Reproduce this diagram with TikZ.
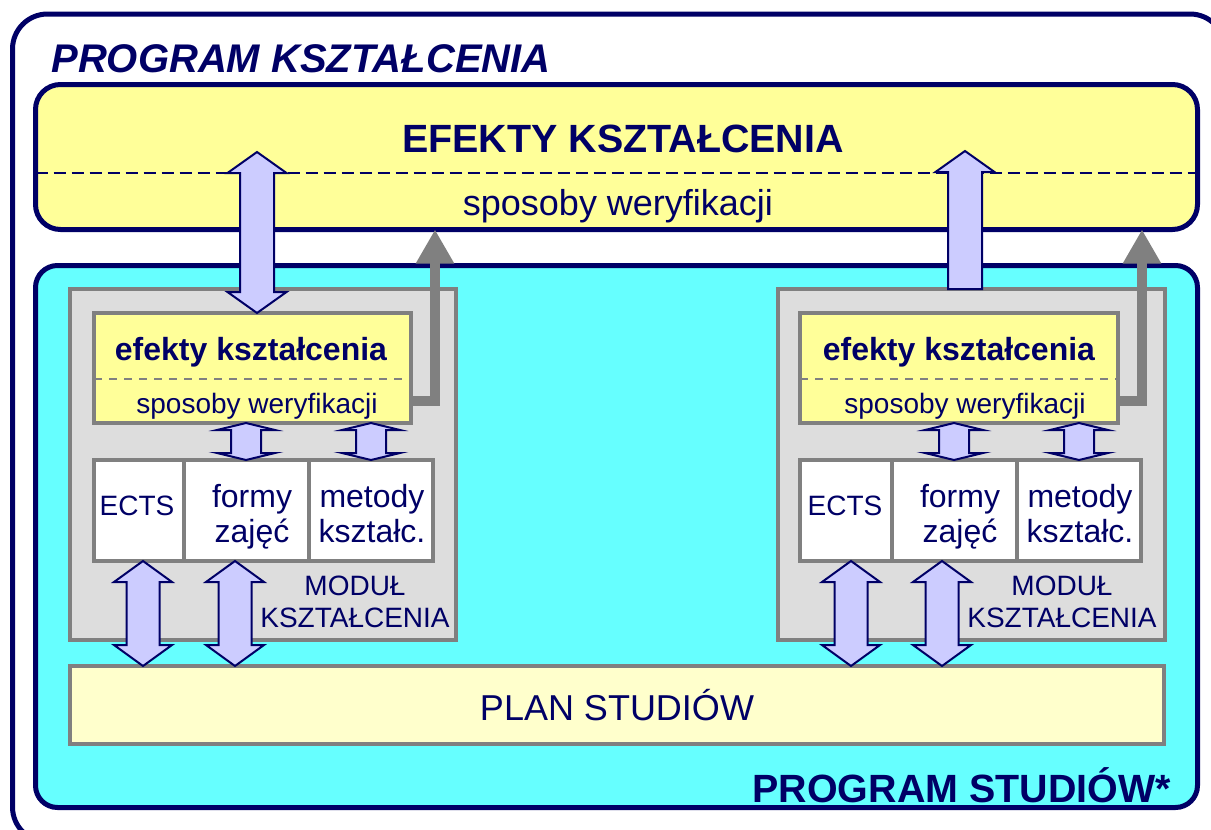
\documentclass[tikz,border=0pt]{standalone}
\usepackage{fontspec}
\setmainfont{Liberation Sans}
\usepackage{tikz}
\usetikzlibrary{calc,fit,arrows.meta}

\definecolor{navy}{HTML}{000066}
\definecolor{paleyel}{HTML}{FFFF99}
\definecolor{planyel}{HTML}{FFFFCC}
\definecolor{cyanbg}{HTML}{66FFFF}
\definecolor{modgray}{HTML}{DDDDDD}
\definecolor{linegray}{HTML}{808080}
\definecolor{lavender}{HTML}{CCCCFF}

\tikzset{
	bigbox/.style={draw=navy, line width=2.5pt, inner sep=0pt, outer sep=0pt},
	modbox/.style={draw=linegray, line width=2pt, inner sep=0pt, outer sep=0pt},
	blockarr/.style={draw=navy, line width=1pt, fill=lavender, line join=miter},
	greyarr/.style={draw=linegray, line width=5pt, -{Triangle[width=18pt,length=17pt]}},
	hdrtext/.style={text=navy, inner sep=0pt, font=\bfseries\fontsize{19.7}{23}\selectfont},
	bigtext/.style={text=navy, inner sep=0pt, font=\fontsize{18}{22}\selectfont},
	modhead/.style={text=navy, inner sep=0pt, font=\bfseries\fontsize{16}{19}\selectfont},
	celltext/.style={text=navy, inner sep=0pt, font=\fontsize{16}{17.5}\selectfont, align=center},
	smalltext/.style={text=navy, inner sep=0pt, font=\fontsize{14}{16}\selectfont, align=center}
}

% vertical block arrows: bottom tip, top tip, (shaft half : head half : head length)
\def\dblarrow[#1](#2)(#3)(#4:#5:#6){\draw[#1] let \p1=(#2), \p2=(#3) in (\x1,\y1) -- (\x1+#5,\y1+#6) -- (\x1+#4,\y1+#6) -- (\x1+#4,\y2-#6) -- (\x1+#5,\y2-#6) -- (\x1,\y2) -- (\x1-#5,\y2-#6) -- (\x1-#4,\y2-#6) -- (\x1-#4,\y1+#6) -- (\x1-#5,\y1+#6) -- cycle;}
\def\onearrow[#1](#2)(#3)(#4:#5:#6){\draw[#1] let \p1=(#2), \p2=(#3) in (\x1-#4,\y1) -- (\x1-#4,\y2-#6) -- (\x1-#5,\y2-#6) -- (\x1,\y2) -- (\x1+#5,\y2-#6) -- (\x1+#4,\y2-#6) -- (\x1+#4,\y1) -- cycle;}

\begin{document}
\begin{tikzpicture}[x=0.5pt,y=-0.5pt]
			%%%%% START %%%%%
			\useasboundingbox (0,0) rectangle (1211,830);
			
			\draw[navy, line width=2.5pt, rounded corners=17.5pt] (12.5,14) rectangle (1225,842);
			\node[anchor=base west, inner sep=0pt, text=navy, font=\bfseries\itshape\fontsize{20}{24}\selectfont] (ptitle) at (51,72) {PROGRAM KSZTAŁCENIA};
			
			\node[bigbox, fill=paleyel, rounded corners=12.5pt, fit={(35.5,84.5)(1197.5,229.5)}] (efk) {};
			\coordinate (dl) at (0,173);
			\draw[navy, line width=1pt, dash pattern=on 6pt off 3pt] (efk.west |- dl) -- (efk.east |- dl);
			\node[hdrtext, anchor=base] (efktxt) at (623,152) {EFEKTY KSZTAŁCENIA};
			\node[bigtext, anchor=base] (efkver) at (618,215) {sposoby weryfikacji};
			
			\node[bigbox, fill=cyanbg, rounded corners=11pt, fit={(35.5,265.5)(1197.5,807.5)}] (pstud) {};
			\node[hdrtext, anchor=base east] (pstudtxt) at (1171,802) {PROGRAM STUDIÓW*};
			
			% left module
			\node[modbox, fill=modgray, fit={(70,289)(456,640)}] (lmod) {};
			\node[modbox, fill=paleyel, fit={(94,313)(411,423)}] (lefk) {};
			\coordinate (mdl) at (0,379);
			\draw[linegray, line width=1pt, dash pattern=on 4pt off 3.5pt] (lefk.west |- mdl) -- (lefk.east |- mdl);
			\node[modhead, anchor=base] (lefktxt) at (251,360) {efekty kształcenia};
			\node[smalltext, anchor=base] (lver) at (257,413) {sposoby weryfikacji};
			\node[modbox, fill=white, fit={(94,460)(184,561)}] (lects) {};
			\node[modbox, fill=white, fit={(184,460)(309,561)}] (lform) {};
			\node[modbox, fill=white, fit={(309,460)(433,561)}] (lmet) {};
			\node[smalltext, anchor=base] at (137,515) {ECTS};
			\node[celltext, anchor=base] at (252,542) {formy\\zajęć};
			\node[celltext, anchor=base] at (372,542) {metody\\kształc.};
			\node[smalltext, anchor=base] (lmodtxt) at (355,627) {MODUŁ\\KSZTAŁCENIA};
			
			% right module
			\node[modbox, fill=modgray, fit={(778,289)(1165,640)}] (rmod) {};
			\node[modbox, fill=paleyel, fit={(800,313)(1118,423)}] (refk) {};
			\draw[linegray, line width=1pt, dash pattern=on 4pt off 3.5pt] (refk.west |- mdl) -- (refk.east |- mdl);
			\node[modhead, anchor=base] (refktxt) at (959,360) {efekty kształcenia};
			\node[smalltext, anchor=base] (rver) at (965,413) {sposoby weryfikacji};
			\node[modbox, fill=white, fit={(800,460)(891.5,561)}] (rects) {};
			\node[modbox, fill=white, fit={(891.5,460)(1017,561)}] (rform) {};
			\node[modbox, fill=white, fit={(1017,460)(1141,561)}] (rmet) {};
			\node[smalltext, anchor=base] at (845,515) {ECTS};
			\node[celltext, anchor=base] at (960,542) {formy\\zajęć};
			\node[celltext, anchor=base] at (1080,542) {metody\\kształc.};
			\node[smalltext, anchor=base] (rmodtxt) at (1062,627) {MODUŁ\\KSZTAŁCENIA};
			
			\node[modbox, fill=planyel, fit={(70,666)(1164,744)}] (plan) {};
			\node[bigtext] (plantxt) at (plan) {PLAN STUDIÓW};
			
			% arrows
			\coordinate (ltip) at (257,152);
			\coordinate (rtip) at (965,151);
			\dblarrow[blockarr](ltip |- lefk.north)(ltip)(8.5pt:14.75pt:10.5pt);
			\onearrow[blockarr](rtip |- rmod.north)(rtip)(8.5pt:14.75pt:10.5pt);
			
			\coordinate (la) at (246,0);
			\coordinate (lb) at (371,0);
			\coordinate (ra) at (954,0);
			\coordinate (rb) at (1079,0);
			\dblarrow[blockarr](la |- lform.north)(la |- lefk.south)(7.5pt:14.5pt:3.5pt);
			\dblarrow[blockarr](lb |- lmet.north)(lb |- lefk.south)(7.5pt:14.5pt:3.5pt);
			\dblarrow[blockarr](ra |- rform.north)(ra |- refk.south)(7.5pt:14.5pt:3.5pt);
			\dblarrow[blockarr](rb |- rmet.north)(rb |- refk.south)(7.5pt:14.5pt:3.5pt);
			
			\coordinate (lc) at (143,0);
			\coordinate (ld) at (235,0);
			\coordinate (rc) at (851,0);
			\coordinate (rd) at (942,0);
			\dblarrow[blockarr](lc |- plan.north)(lc |- lects.south)(8.25pt:14.5pt:10.5pt);
			\dblarrow[blockarr](ld |- plan.north)(ld |- lform.south)(8.25pt:14.5pt:10.5pt);
			\dblarrow[blockarr](rc |- plan.north)(rc |- rects.south)(8.25pt:14.5pt:10.5pt);
			\dblarrow[blockarr](rd |- plan.north)(rd |- rform.south)(8.25pt:14.5pt:10.5pt);
			
			\coordinate (lbend) at (435,401);
			\coordinate (rbend) at (1142,401);
			\draw[greyarr] (lbend -| lefk.east) -- (lbend) -- (lbend |- efk.south);
			\draw[greyarr] (rbend -| refk.east) -- (rbend) -- (rbend |- efk.south);
			
			%%%%% END %%%%%
\end{tikzpicture}
\end{document}
